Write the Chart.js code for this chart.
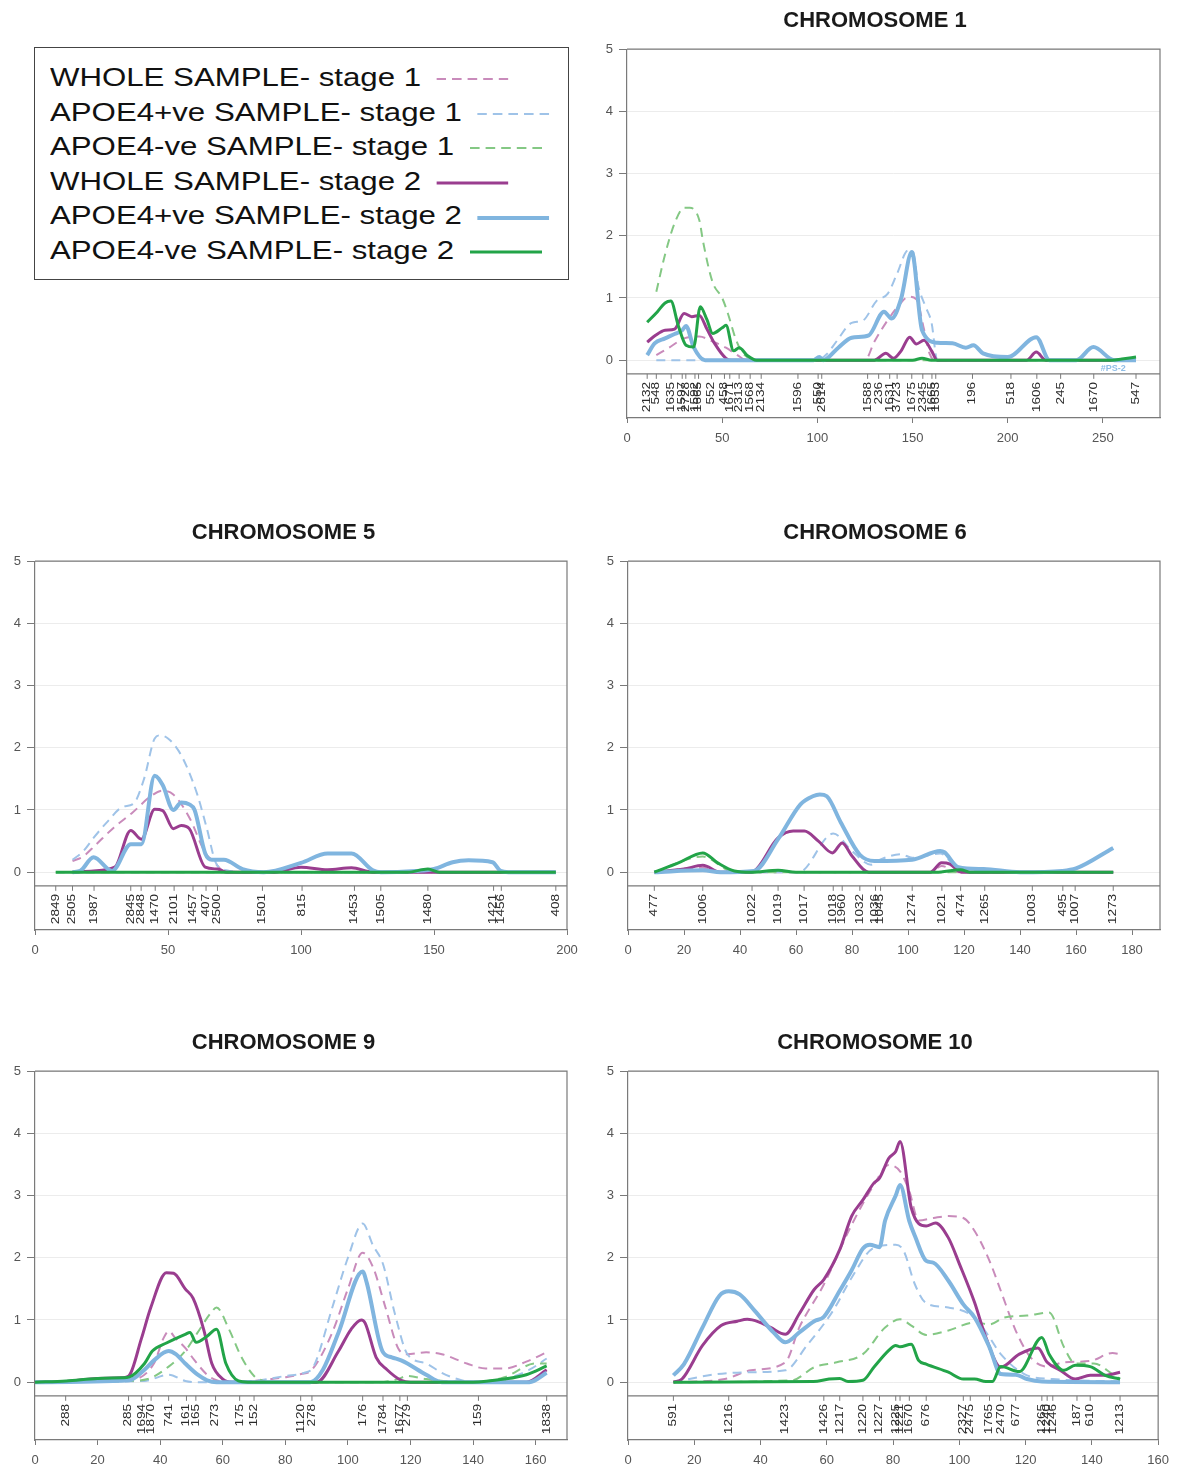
<!DOCTYPE html>
<html lang="en">
<head>
    <meta charset="UTF-8">
    <title>Chromosome scans</title>
    <script src="https://cdn.jsdelivr.net/npm/chart.js"></script>
    <style>
        body { margin: 0; background: #fff; font-family: "Liberation Sans", Arial, sans-serif; }
        #page { position: relative; width: 1177px; height: 1473px; overflow: hidden; }
        .panel { position: absolute; }
        #legend { position: absolute; left: 34px; top: 47px; width: 535px; height: 233px; box-sizing: border-box;
                  border: 1.5px solid #444; padding: 12px 0 0 15px; }
        .row { height: 34.6px; line-height: 34.6px; font-size: 26px; white-space: nowrap; color: #111;
               transform: scaleX(1.2); transform-origin: left center; }
        .row svg { vertical-align: middle; margin-left: 13px; }
    </style>
</head>
<body>
<div id="page">
    <div id="legend"></div>
    <div class="panel" style="left:590px; top:0; width:587px; height:450px"><canvas id="chr1"></canvas></div>
    <div class="panel" style="left:0; top:512px; width:590px; height:450px"><canvas id="chr5"></canvas></div>
    <div class="panel" style="left:590px; top:512px; width:587px; height:450px"><canvas id="chr6"></canvas></div>
    <div class="panel" style="left:0; top:1022px; width:590px; height:450px"><canvas id="chr9"></canvas></div>
    <div class="panel" style="left:590px; top:1022px; width:587px; height:450px"><canvas id="chr10"></canvas></div>
</div>

<script>
    const seriesNames = ['WHOLE SAMPLE- stage 1', 'APOE4+ve SAMPLE- stage 1', 'APOE4-ve SAMPLE- stage 1',
                         'WHOLE SAMPLE- stage 2', 'APOE4+ve SAMPLE- stage 2', 'APOE4-ve SAMPLE- stage 2'];
    const yTicks = [0, 1, 2, 3, 4, 5];

    // Chromosome 1
    const chr1XTicks = [0, 50, 100, 150, 200, 250];
    const chr1Markers = [10.6, 15.4, 23.2, 29, 30.9, 35.7, 37.6, 44.4, 51.2, 54, 58.9, 64.7, 70.5, 89.8, 100.4, 102.3,
                         126.4, 132.2, 138, 141.9, 149.6, 155.4, 160.2, 162.2, 181.5, 201.7, 215.3, 227.8, 245.2, 267.4];
    const chr1MarkerLabels = ['2132', '548', '1635', '1597', '2728', '1592', '1665', '552', '458', '1671', '2313', '1568',
                              '2134', '1596', '550', '2614', '1588', '236', '1631', '3723', '1675', '2345', '1665', '1653',
                              '196', '518', '1606', '245', '1670', '547'];
    const chr1Whole1 = [[15.4,0.08],[22,0.2],[30,0.35],[38,0.38],[45,0.3],[52,0.2],[58,0.08],[63,0],[125,0],[130,0.3],
                        [136,0.6],[142,0.85],[148,1.02],[152,0.98],[156,0.5],[159,0.1],[162,0],[267.4,0]];
    const chr1Pos1 = [[15.4,0],[100,0],[105,0.1],[110,0.3],[118,0.6],[124,0.64],[131,0.95],[137,1.07],[142,1.4],
                      [147.5,1.76],[150,1.76],[153,1.2],[157,0.85],[160,0.6],[163,0],[267.4,0]];
    const chr1Neg1 = [[15.4,1.1],[20,1.7],[25,2.2],[30,2.45],[33,2.45],[38,2.25],[40,1.9],[45,1.25],[50,1.0],[53,0.75],
                      [57,0.35],[60,0.15],[65,0.02],[70,0],[267.4,0]];
    const chr1Whole2 = [[10.6,0.29],[15,0.4],[20,0.48],[25,0.5],[30,0.75],[34,0.7],[38,0.72],[42,0.5],[46,0.27],[52,0.03],
                        [55,0],[130,0],[136,0.11],[140,0.03],[144,0.15],[148.5,0.37],[152,0.26],[156,0.32],[160,0.15],
                        [163,0],[210,0],[215,0.13],[220,0],[267.4,0]];
    const chr1Pos2 = [[10.6,0.08],[14.5,0.27],[20,0.35],[25,0.42],[29,0.48],[31,0.55],[35,0.21],[41,0],[98,0],[101,0.05],
                      [103,0],[111,0.2],[118,0.36],[127,0.4],[135,0.78],[139,0.67],[144,0.99],[149.6,1.74],[155,0.48],
                      [163,0.28],[171,0.27],[178,0.2],[182,0.24],[187,0.11],[200,0.05],[215,0.37],[222,0],[236,0],
                      [245,0.21],[256,0],[267.4,0]];
    const chr1Neg2 = [[10.6,0.61],[16,0.78],[20,0.92],[23,0.95],[27,0.55],[31,0.24],[35,0.21],[38.5,0.86],[42,0.65],
                      [45,0.43],[50,0.52],[52,0.56],[56,0.15],[59,0.2],[63,0.08],[68,0],[150,0],[155,0.03],[160,0],
                      [255,0],[260,0.02],[267.4,0.05]];
    const chr1Notes = [{ text: '#PS-2', x: 262, y: -0.13 }];

    // Chromosome 5
    const chr5XTicks = [0, 50, 100, 150, 200];
    const chr5Markers = [7.8, 14.1, 22.2, 36.0, 39.9, 45.2, 52.3, 59.4, 64.3, 68.6, 85.5, 100.4, 120.1, 130, 147.7, 172.4, 175.3, 195.8];
    const chr5MarkerLabels = ['2849', '2505', '1987', '2845', '2848', '1470', '2101', '1457', '407', '2500', '1501', '815',
                              '1453', '1505', '1480', '1421', '1456', '408'];
    const chr5Whole1 = [[14.1,0.18],[18,0.25],[22.6,0.43],[29.7,0.72],[36.7,0.96],[43.8,1.23],[48,1.31],[52,1.25],[58,0.88],
                        [64.3,0.29],[67,0.18],[71,0.02],[80,0],[195.8,0]];
    const chr5Pos1 = [[14.1,0.2],[18,0.33],[22,0.55],[27,0.8],[33,1.05],[37,1.1],[41,1.5],[45,2.15],[47,2.2],[50,2.15],
                      [54,1.95],[57,1.7],[61,1.25],[64.5,0.72],[68,0.15],[72,0.03],[80,0],[195.8,0]];
    const chr5Neg1 = [[7.8,0],[195.8,0]];
    const chr5Whole2 = [[14.1,0],[22,0.02],[30,0.08],[36,0.67],[40,0.53],[45,1.01],[48,0.99],[52,0.7],[55,0.75],[58,0.7],
                        [64,0.08],[68.6,0.05],[72,0],[90,0],[100,0.08],[110,0.04],[119,0.07],[127,0],[195.8,0]];
    const chr5Pos2 = [[14.1,0],[17,0.02],[22,0.24],[29,0.02],[36,0.45],[40,0.45],[45,1.55],[48,1.4],[52,1.0],[55,1.12],
                      [58,1.09],[60,1.0],[64,0.3],[66.5,0.2],[71,0.2],[78,0.05],[86,0],[100,0.15],[110,0.3],[119,0.3],
                      [127,0.03],[130,0],[143,0.02],[150,0.05],[157,0.16],[163,0.19],[172,0.16],[175,0.02],[178,0],[195.8,0]];
    const chr5Neg2 = [[7.8,0],[140,0],[147.7,0.05],[152,0],[195.8,0]];

    // Chromosome 6
    const chr6XTicks = [0, 20, 40, 60, 80, 100, 120, 140, 160, 180];
    const chr6Markers = [9.4, 26.7, 44.3, 53.6, 62.9, 73.3, 76.5, 82.8, 88.4, 90.2, 101.5, 112.1, 118.8, 127.4, 144.4, 155.3, 159.7, 173.3];
    const chr6MarkerLabels = ['477', '1006', '1022', '1019', '1017', '1018', '1960', '1032', '1036', '1045', '1274', '1021',
                              '474', '1265', '1003', '495', '1007', '1273'];
    const chr6Whole1 = [[9.4,0],[26.7,0.07],[33,0],[108,0],[112,0.1],[118,0],[173.3,0]];
    const chr6Pos1 = [[9.4,0],[26.7,0.04],[33,0],[61,0],[73.3,0.62],[80,0.34],[86.8,0.12],[90,0.2],[97.5,0.29],[101.5,0.23],
                      [111.5,0.3],[118,0.06],[127,0.04],[140,0],[173.3,0]];
    const chr6Neg1 = [[9.4,0],[26.7,0.25],[38,0],[173.3,0]];
    const chr6Whole2 = [[9.4,0],[20,0.05],[26.7,0.11],[33,0],[44,0],[53.6,0.55],[59,0.66],[63,0.66],[68,0.5],[73,0.31],
                        [76.5,0.47],[80,0.26],[86,0],[108,0],[112,0.15],[115,0.13],[119,0],[173.3,0]];
    const chr6Pos2 = [[9.4,0],[26.7,0.03],[33,0],[45,0.02],[53.6,0.53],[61.6,1.09],[66,1.22],[68.5,1.25],[71,1.22],[76,0.8],
                      [82.8,0.28],[88,0.18],[101.5,0.2],[111.5,0.34],[113,0.32],[118,0.08],[127,0.05],[140,0],[155,0.02],
                      [160,0.06],[173.3,0.39]];
    const chr6Neg2 = [[9.4,0],[18,0.15],[26.7,0.31],[32,0.15],[38,0.02],[44,0],[53.6,0.03],[60,0],[110,0],[118.8,0.04],
                      [122,0],[173.3,0]];

    // Chromosome 9
    const chr9XTicks = [0, 20, 40, 60, 80, 100, 120, 140, 160];
    const chr9Markers = [9.8, 29.9, 34.1, 37.1, 42.7, 48.4, 51.4, 57.7, 65.4, 70, 84.9, 88.5, 104.7, 111.2, 116.6, 119, 141.7, 163.5];
    const chr9MarkerLabels = ['288', '285', '1694', '1870', '741', '161', '165', '273', '175', '152', '1120', '278', '176',
                              '1784', '1677', '279', '159', '1838'];
    const chr9Whole1 = [[0,0],[30,0.03],[38,0.3],[41,0.7],[42.7,0.82],[45,0.7],[48,0.55],[51,0.35],[55,0.12],[58,0.03],
                        [62,0],[70,0.02],[80,0.08],[85,0.13],[88.5,0.2],[95,0.8],[100,1.5],[104.7,2.08],[108,1.85],
                        [112,1.2],[116,0.55],[119,0.45],[125,0.48],[130,0.45],[138,0.3],[144,0.22],[150,0.22],[157,0.33],[163.5,0.48]];
    const chr9Pos1 = [[0,0],[35,0.02],[42.7,0.12],[48,0.02],[52,0],[70,0.02],[80,0.1],[86,0.15],[89,0.25],[95,1.2],[100,2.0],
                      [104.7,2.55],[108,2.2],[111.2,1.9],[115,1.1],[119,0.45],[125,0.3],[130,0.15],[135,0.05],[140,0],
                      [150,0.05],[158,0.2],[163.5,0.38]];
    const chr9Neg1 = [[0,0],[30,0.02],[36,0.05],[42.7,0.25],[48,0.5],[52,0.8],[56,1.1],[58,1.2],[62,0.85],[66,0.4],[70,0.1],
                      [73,0.02],[76,0],[110,0],[116,0.05],[119,0.1],[125,0.05],[140,0],[150,0.08],[160,0.3],[163.5,0.3]];
    const chr9Whole2 = [[0,0],[10,0.01],[20,0.06],[28,0.07],[30,0.1],[34,0.7],[37,1.2],[42,1.76],[44.3,1.75],[48,1.5],
                        [50.5,1.35],[54,0.83],[56.5,0.3],[60,0.05],[63,0],[90,0],[97,0.5],[101,0.85],[104.3,1.0],
                        [105.5,0.95],[109,0.4],[112.5,0.2],[117,0.03],[120,0],[157,0],[163.5,0.2]];
    const chr9Pos2 = [[0,0],[30,0.03],[35,0.2],[38,0.35],[42.7,0.5],[45,0.45],[48,0.3],[52,0.12],[55,0.03],[58,0],[88,0],
                      [92,0.2],[97,0.8],[104.7,1.78],[106,1.6],[111,0.5],[114,0.4],[117,0.35],[119,0.3],[125,0.12],
                      [130,0],[158,0],[163.5,0.15]];
    const chr9Neg2 = [[0,0],[10,0.02],[20,0.06],[28,0.07],[30,0.08],[35,0.3],[37.5,0.5],[42,0.63],[48,0.77],[49.5,0.8],
                      [51.5,0.64],[55,0.74],[58,0.85],[61,0.3],[65,0.02],[68,0],[140,0],[150,0.05],[157,0.12],[163.5,0.26]];

    // Chromosome 10
    const chr10XTicks = [0, 20, 40, 60, 80, 100, 120, 140, 160];
    const chr10Markers = [13.7, 30.4, 47.5, 59.1, 63.9, 70.9, 75.9, 80.8, 82.1, 84.9, 90, 101.2, 103.3, 109.1, 112.5, 117,
                          124.9, 126.5, 128.2, 135.5, 139.5, 148.5];
    const chr10MarkerLabels = ['591', '1216', '1423', '1426', '1217', '1220', '1227', '1225', '1221', '1670', '676', '2327',
                               '2475', '1765', '2470', '677', '1265', '1240', '1246', '187', '610', '1213'];
    const chr10Whole1 = [[13.7,0],[29.2,0.05],[37.1,0.19],[47.5,0.32],[51.7,0.88],[59.1,1.57],[67.5,2.53],[74.2,3.17],
                         [78.7,3.49],[82.1,3.39],[84.9,3.07],[87.7,2.6],[92.2,2.64],[96.7,2.67],[101.2,2.64],[104.6,2.43],
                         [109.1,1.95],[112.5,1.47],[117,0.83],[121.5,0.4],[126.5,0.25],[131.6,0.32],[139.5,0.34],
                         [146.2,0.47],[148.5,0.45]];
    const chr10Pos1 = [[13.7,0],[27,0.13],[37.1,0.16],[47.5,0.19],[54,0.59],[61.9,1.15],[67.5,1.68],[74.2,2.16],[80.8,2.21],
                       [83.2,2.11],[86.6,1.57],[90,1.27],[96.7,1.2],[104.6,1.04],[109.1,0.72],[112.5,0.45],[120.4,0.11],
                       [128.2,0.05],[148.5,0.01]];
    const chr10Neg1 = [[13.7,0],[49.5,0.03],[56.2,0.24],[63,0.32],[70.9,0.45],[77.6,0.88],[82.1,1.01],[85.5,0.91],[90,0.76],
                       [96.7,0.83],[104.6,0.96],[109.1,0.93],[113.6,1.04],[120.4,1.07],[127.1,1.12],[131.6,0.56],[135,0.3],
                       [140.6,0.3],[146.2,0.13],[148.5,0.05]];
    const chr10Whole2 = [[13.7,0],[16.3,0.05],[22.5,0.59],[28.1,0.91],[33,0.98],[36,1.01],[39.4,0.97],[43,0.88],[47.5,0.77],
                         [51.7,1.1],[56.2,1.49],[59.1,1.65],[63.9,2.13],[67.5,2.67],[70.9,2.93],[74.2,3.2],[75.9,3.28],
                         [78.7,3.6],[80.8,3.71],[82.1,3.87],[85.5,2.8],[90,2.51],[92.8,2.56],[96.7,2.32],[100.1,1.89],
                         [104.6,1.28],[108,0.72],[112.5,0.24],[118.1,0.45],[123.7,0.55],[126.5,0.32],[130.5,0.19],[135,0.05],
                         [139.5,0.11],[144,0.11],[148.5,0.16]];
    const chr10Pos2 = [[13.7,0.11],[16.9,0.29],[22.5,0.88],[27.6,1.39],[30.4,1.46],[33.7,1.41],[38.2,1.15],[43.9,0.8],
                       [47.5,0.64],[51.7,0.8],[56.2,0.98],[59.1,1.05],[63.9,1.47],[67.5,1.8],[70.9,2.15],[73,2.21],
                       [75.9,2.17],[77.6,2.6],[80.8,3.0],[82.1,3.17],[84.9,2.59],[86.6,2.35],[90,1.95],[92.2,1.92],
                       [96.7,1.63],[101.2,1.25],[104.6,1.04],[109.1,0.56],[112.5,0.13],[117,0.12],[120.4,0.05],[124.9,0.01],[148.5,0]];
    const chr10Neg2 = [[13.7,0],[56,0.01],[60.7,0.05],[63.9,0.06],[66.4,0.01],[70.9,0.03],[74.2,0.24],[78.7,0.51],[80.8,0.59],
                       [82.1,0.57],[85.5,0.61],[87.7,0.35],[90,0.29],[96.7,0.16],[101.2,0.05],[104.6,0.05],[108,0.01],
                       [110,0.01],[112.5,0.25],[118.1,0.17],[124.9,0.72],[127.1,0.45],[131.6,0.19],[135,0.27],[139.5,0.25],
                       [144,0.11],[148.5,0.05]];

    // line styles, same order as seriesNames
    const lineStyles = [
        { color: '#c98bbb', width: 2, dash: [9, 6] },
        { color: '#9fc3e8', width: 2, dash: [9, 6] },
        { color: '#84c884', width: 2, dash: [9, 6] },
        { color: '#9a3d8f', width: 3, dash: [] },
        { color: '#80b5df', width: 4, dash: [] },
        { color: '#22a448', width: 3, dash: [] }
    ];

    const fontFamily = '"Liberation Sans", Arial, sans-serif';
    const axisColor = '#7a7a7a';

    // legend box
    const legend = document.getElementById('legend');
    seriesNames.forEach((name, i) => {
        const st = lineStyles[i];
        const row = document.createElement('div');
        row.className = 'row';
        row.appendChild(document.createTextNode(name));
        const svg = document.createElementNS('http://www.w3.org/2000/svg', 'svg');
        svg.setAttribute('width', '60');
        svg.setAttribute('height', '10');
        const ln = document.createElementNS('http://www.w3.org/2000/svg', 'line');
        ln.setAttribute('x1', '0'); ln.setAttribute('x2', '60');
        ln.setAttribute('y1', '5'); ln.setAttribute('y2', '5');
        ln.setAttribute('stroke', st.color);
        ln.setAttribute('stroke-width', st.width);
        if (st.dash.length) ln.setAttribute('stroke-dasharray', '8 5');
        svg.appendChild(ln);
        row.appendChild(svg);
        legend.appendChild(row);
    });

    // frame, marker strip and marker names under each plot
    const markerStrip = {
        id: 'markerStrip',
        afterDatasetsDraw(chart, args, opts) {
            const { ctx, chartArea: a, scales: { x, y } } = chart;
            const yTop = y.getPixelForValue(opts.stripTop);
            ctx.save();
            ctx.strokeStyle = axisColor;
            ctx.lineWidth = 1.2;
            ctx.beginPath();
            ctx.moveTo(a.left, a.top);
            ctx.lineTo(a.right, a.top);
            ctx.lineTo(a.right, a.bottom);
            ctx.moveTo(a.left, yTop);
            ctx.lineTo(a.right, yTop);
            ctx.stroke();

            ctx.fillStyle = '#2a2a2a';
            ctx.font = '10.5px ' + fontFamily;
            ctx.lineWidth = 1;
            opts.positions.forEach((p, i) => {
                const px = x.getPixelForValue(p);
                ctx.beginPath();
                ctx.moveTo(px, yTop);
                ctx.lineTo(px, yTop + 5);
                ctx.stroke();
                ctx.save();
                ctx.translate(px, yTop + 8);
                ctx.rotate(-Math.PI / 2);
                ctx.scale(1.3, 1);
                ctx.textAlign = 'right';
                ctx.textBaseline = 'middle';
                ctx.fillText(opts.labels[i], 0, 0);
                ctx.restore();
            });

            (opts.notes || []).forEach(n => {
                ctx.fillStyle = '#8fbde6';
                ctx.font = 'bold 9px ' + fontFamily;
                ctx.textAlign = 'right';
                ctx.textBaseline = 'middle';
                ctx.fillText(n.text, x.getPixelForValue(n.x), y.getPixelForValue(n.y));
            });
            ctx.restore();
        }
    };

    function makeChart(id, title, xMax, xTicks, yAxisWidth, padRight, markers, markerLabels, series, notes) {
        const datasets = series.map((pts, i) => ({
            label: seriesNames[i],
            data: pts.map(p => ({ x: p[0], y: p[1] })),
            borderColor: lineStyles[i].color,
            borderWidth: lineStyles[i].width,
            borderDash: lineStyles[i].dash,
            pointRadius: 0,
            fill: false,
            cubicInterpolationMode: 'monotone',
            order: 5 - i
        }));

        new Chart(document.getElementById(id), {
            type: 'line',
            data: { datasets: datasets },
            plugins: [markerStrip],
            options: {
                responsive: true,
                maintainAspectRatio: false,
                animation: false,
                events: [],
                layout: { autoPadding: false, padding: { left: 0, right: padRight, top: 0, bottom: 0 } },
                plugins: {
                    legend: { display: false },
                    tooltip: { enabled: false },
                    title: {
                        display: true,
                        text: title,
                        color: '#1a1a1a',
                        font: { family: fontFamily, size: 22, weight: 'bold' },
                        padding: { top: 8, bottom: 14.8 }
                    },
                    markerStrip: { stripTop: -0.22, positions: markers, labels: markerLabels, notes: notes }
                },
                scales: {
                    x: {
                        type: 'linear',
                        min: 0,
                        max: xMax,
                        afterBuildTicks: s => { s.ticks = xTicks.map(v => ({ value: v })); },
                        afterFit: s => { s.height = 32; },
                        ticks: { color: '#555', font: { family: fontFamily, size: 13 }, padding: 8, maxRotation: 0, autoSkip: false },
                        grid: { drawOnChartArea: false, tickLength: 5, tickColor: axisColor },
                        border: { color: axisColor, width: 1.2 }
                    },
                    y: {
                        min: -0.93,
                        max: 5,
                        afterBuildTicks: s => { s.ticks = yTicks.map(v => ({ value: v })); },
                        afterFit: s => { s.width = yAxisWidth; },
                        ticks: { color: '#555', font: { family: fontFamily, size: 13 }, padding: 6 },
                        grid: { color: '#ececec', tickLength: 8, tickColor: axisColor },
                        border: { color: axisColor, width: 1.2 }
                    }
                }
            }
        });
    }

    makeChart('chr1', 'CHROMOSOME 1', 280, chr1XTicks, 37, 17, chr1Markers, chr1MarkerLabels,
              [chr1Whole1, chr1Pos1, chr1Neg1, chr1Whole2, chr1Pos2, chr1Neg2], chr1Notes);
    makeChart('chr5', 'CHROMOSOME 5', 200, chr5XTicks, 35, 23, chr5Markers, chr5MarkerLabels,
              [chr5Whole1, chr5Pos1, chr5Neg1, chr5Whole2, chr5Pos2, chr5Neg2]);
    makeChart('chr6', 'CHROMOSOME 6', 190, chr6XTicks, 38, 17, chr6Markers, chr6MarkerLabels,
              [chr6Whole1, chr6Pos1, chr6Neg1, chr6Whole2, chr6Pos2, chr6Neg2]);
    makeChart('chr9', 'CHROMOSOME 9', 170, chr9XTicks, 35, 23, chr9Markers, chr9MarkerLabels,
              [chr9Whole1, chr9Pos1, chr9Neg1, chr9Whole2, chr9Pos2, chr9Neg2]);
    makeChart('chr10', 'CHROMOSOME 10', 160, chr10XTicks, 38, 17, chr10Markers, chr10MarkerLabels,
              [chr10Whole1, chr10Pos1, chr10Neg1, chr10Whole2, chr10Pos2, chr10Neg2]);
</script>
</body>
</html>
